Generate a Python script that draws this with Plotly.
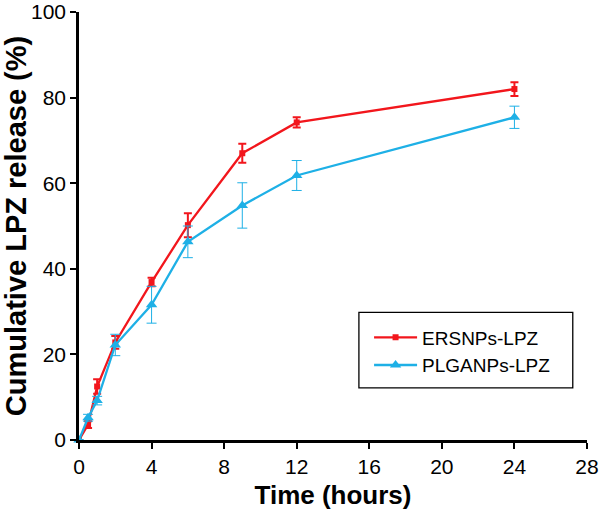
import plotly.graph_objects as go

# Time points (hours)
time_points = [0, 0.5, 1, 2, 4, 6, 9, 12, 24]
ers_values = [0, 3.6, 12.5, 22.8, 36.9, 50.2, 67.0, 74.2, 82.0]
ers_errors = [0, 0.8, 1.7, 1.5, 1.0, 2.8, 2.2, 1.2, 1.6]
plga_values = [0, 5.2, 9.2, 22.2, 31.6, 46.3, 54.8, 61.8, 75.4]
plga_errors = [0, 0.8, 1.0, 2.5, 4.3, 3.7, 5.3, 3.5, 2.6]

x_ticks = [0, 4, 8, 12, 16, 20, 24, 28]
y_ticks = [0, 20, 40, 60, 80, 100]

RED = "#F2161C"
BLUE = "#1EB0E6"
FONT = "Arial, Liberation Sans, sans-serif"

fig = go.Figure()
fig.add_trace(go.Scatter(
    x=time_points, y=ers_values, name="ERSNPs-LPZ", mode="lines+markers",
    line=dict(color=RED, width=2.3),
    marker=dict(symbol="square", size=6, color=RED),
    error_y=dict(type="data", array=ers_errors, visible=True, color=RED, thickness=2, width=4),
    cliponaxis=False,
))
fig.add_trace(go.Scatter(
    x=time_points, y=plga_values, name="PLGANPs-LPZ", mode="lines+markers",
    line=dict(color=BLUE, width=2.3),
    marker=dict(symbol="triangle-up", size=10, color=BLUE),
    error_y=dict(type="data", array=plga_errors, visible=True, color=BLUE, thickness=1, width=5),
    cliponaxis=False,
))

# legend frame
fig.add_shape(type="rect", xref="paper", yref="paper",
              x0=0.551, x1=0.972, y0=0.122, y1=0.298,
              line=dict(color="black", width=1.3), fillcolor="rgba(0,0,0,0)", layer="above")

fig.update_layout(
    width=600, height=510,
    margin=dict(l=79, r=13, t=12, b=70, autoexpand=False),
    paper_bgcolor="white", plot_bgcolor="white",
    font=dict(family=FONT, size=21, color="black"),
    showlegend=True,
    legend=dict(
        x=0.571, y=0.284, xanchor="left", yanchor="top",
        bgcolor="rgba(0,0,0,0)", borderwidth=0,
        font=dict(size=19, family=FONT),
        itemwidth=43, tracegroupgap=0,
    ),
    xaxis=dict(
        range=[0, 28], tickvals=x_ticks, ticktext=[str(v) for v in x_ticks],
        showline=True, linecolor="black", linewidth=2.5,
        ticks="outside", ticklen=6, tickwidth=2, tickcolor="black",
        showgrid=False, zeroline=False, automargin=False,
        ticklabeloverflow="allow",
        title=dict(text="<b>Time (hours)</b>", font=dict(size=26, family=FONT), standoff=10),
        tickfont=dict(size=21),
    ),
    yaxis=dict(
        range=[0, 100], tickvals=y_ticks, ticktext=[str(v) for v in y_ticks],
        showline=True, linecolor="black", linewidth=2.5,
        ticks="outside", ticklen=6, tickwidth=2, tickcolor="black",
        showgrid=False, zeroline=False, automargin=False,
        ticklabeloverflow="allow",
        title=dict(text="<b>Cumulative LPZ release (%)</b>", font=dict(size=29, family=FONT), standoff=6),
        tickfont=dict(size=21),
    ),
)

fig.write_html("out.html", config={"displayModeBar": False},
               post_script="document.body.style.margin='0';")
